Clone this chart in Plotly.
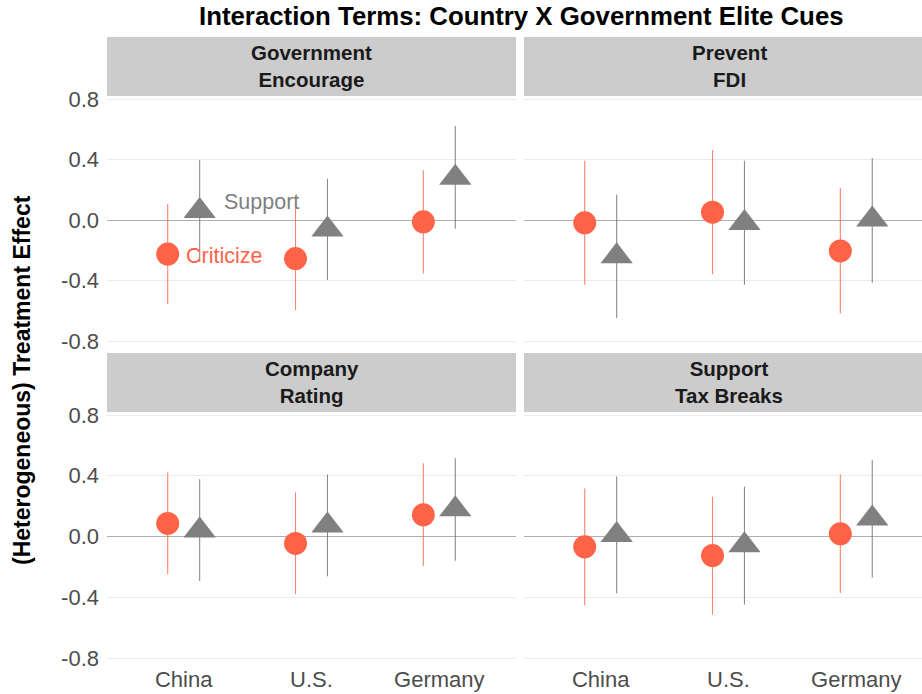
import plotly.graph_objects as go

# ---------------- data ----------------
countries = ["China", "U.S.", "Germany"]
panels = ["Government<br>Encourage", "Prevent<br>FDI", "Company<br>Rating", "Support<br>Tax Breaks"]

# Criticize (circles)
crit_est = [[-0.225, -0.255, -0.012], [-0.018, 0.052, -0.204], [0.086, -0.045, 0.143], [-0.068, -0.125, 0.018]]
crit_lo = [[-0.557, -0.595, -0.353], [-0.428, -0.359, -0.617], [-0.249, -0.380, -0.196], [-0.453, -0.514, -0.372]]
crit_hi = [[0.106, 0.088, 0.330], [0.392, 0.463, 0.212], [0.421, 0.291, 0.483], [0.317, 0.262, 0.408]]

# Support (triangles)
supp_est = [[0.060, -0.062, 0.280], [-0.240, -0.019, 0.003], [0.040, 0.073, 0.179], [0.010, -0.058, 0.118]]
supp_lo = [[-0.278, -0.397, -0.057], [-0.648, -0.428, -0.414], [-0.293, -0.262, -0.159], [-0.374, -0.448, -0.269]]
supp_hi = [[0.397, 0.273, 0.621], [0.167, 0.392, 0.410], [0.377, 0.408, 0.516], [0.395, 0.329, 0.504]]

y_ticks = [-0.8, -0.4, 0.0, 0.4, 0.8]
y_ticktext = ["-0.8", "-0.4", "0.0", "0.4", "0.8"]

# ---------------- layout geometry ----------------
W, H = 922, 694
FONT = "Liberation Sans, Arial, sans-serif"
TOMATO = "#FF6347"
GREY = "#808080"

def px_x(p):
    return p / W

def px_y(p):
    return 1 - p / H

x_domains = [(107, 516), (524, 922)]
y_domains = [(96, 345), (412, 662)]
strip_y = [(37, 96), (353, 412)]
x_ranges = [[0.4, 3.6], [0.4, 0.4 + (922 - 524) / 127.8]]
y_range = [-0.826, 0.82]
dodge = 0.125

fig = go.Figure()
layout_axes = {}

for i, name in enumerate(panels):
    row, col = divmod(i, 2)
    ax = "" if i == 0 else str(i + 1)
    xref = "x" + ax
    yref = "y" + ax
    xpos = [k + 1 for k in range(len(countries))]

    ce, cl, ch = crit_est[i], crit_lo[i], crit_hi[i]
    se, sl, sh = supp_est[i], supp_lo[i], supp_hi[i]

    fig.add_trace(go.Scatter(
        x=[p - dodge for p in xpos], y=ce, mode="markers",
        marker=dict(symbol="circle", size=23, color=TOMATO),
        error_y=dict(type="data", symmetric=False,
                     array=[h - e for h, e in zip(ch, ce)],
                     arrayminus=[e - l for e, l in zip(ce, cl)],
                     color="rgba(255,99,71,0.8)", thickness=1.1, width=0),
        xaxis=xref, yaxis=yref, showlegend=False, hoverinfo="skip"))
    fig.add_trace(go.Scatter(
        x=[p + dodge for p in xpos], y=se, mode="markers",
        marker=dict(symbol="triangle-up", size=28, color=GREY),
        error_y=dict(type="data", symmetric=False,
                     array=[h - e for h, e in zip(sh, se)],
                     arrayminus=[e - l for e, l in zip(se, sl)],
                     color="rgba(110,110,110,0.8)", thickness=1.1, width=0),
        xaxis=xref, yaxis=yref, showlegend=False, hoverinfo="skip"))

    xd = x_domains[col]
    yd = y_domains[row]
    layout_axes["xaxis" + ax] = dict(
        domain=[px_x(xd[0]), px_x(xd[1])], range=x_ranges[col],
        anchor=yref, tickvals=xpos, ticktext=countries,
        showticklabels=(row == 1), showgrid=False, zeroline=False,
        showline=False, ticks="", ticklabelstandoff=2, automargin=False,
        tickfont=dict(family=FONT, size=22, color="#4D4D4D"), fixedrange=True)
    layout_axes["yaxis" + ax] = dict(
        domain=[px_y(yd[1]), px_y(yd[0])], range=y_range,
        anchor=xref, tickvals=y_ticks, ticktext=y_ticktext,
        showticklabels=(col == 0), showgrid=True, gridcolor="#EBEBEB", gridwidth=1,
        zeroline=True, zerolinecolor="#AFAFAF", zerolinewidth=1,
        showline=False, ticks="", ticklabelstandoff=7, automargin=False,
        tickfont=dict(family=FONT, size=22, color="#4D4D4D"), fixedrange=True)

    # strip
    sy = strip_y[row]
    fig.add_shape(type="rect", xref="paper", yref="paper",
                  x0=px_x(xd[0]), x1=px_x(xd[1]), y0=px_y(sy[1]), y1=px_y(sy[0]),
                  fillcolor="#CCCCCC", line=dict(width=0), layer="below")
    fig.add_annotation(xref="paper", yref="paper",
                       x=px_x((xd[0] + xd[1]) / 2) if col == 0 else px_x((524 + 934) / 2),
                       y=px_y((sy[0] + sy[1]) / 2),
                       text="<b>" + name + "</b>", showarrow=False,
                       font=dict(family=FONT, size=20.5, color="#1A1A1A"),
                       xanchor="center", yanchor="middle", align="center")

# in-panel labels
fig.add_annotation(x=1.3, y=0.12, xref="x", yref="y", text="Support", showarrow=False,
                   xanchor="left", yanchor="middle",
                   font=dict(family=FONT, size=21.5, color=GREY))
fig.add_annotation(x=1.0, y=-0.235, xref="x", yref="y", text="Criticize", showarrow=False,
                   xanchor="left", yanchor="middle",
                   font=dict(family=FONT, size=21.5, color=TOMATO))

# title
fig.add_annotation(xref="paper", yref="paper", x=px_x(521), y=px_y(16),
                   text="<b>Interaction Terms: Country X Government Elite Cues</b>",
                   showarrow=False, xanchor="center", yanchor="middle",
                   font=dict(family=FONT, size=25.8, color="#000000"))

# y-axis title
fig.add_annotation(xref="paper", yref="paper", x=px_x(22), y=px_y(380),
                   text="<b>(Heterogeneous) Treatment Effect</b>", textangle=-90,
                   showarrow=False, xanchor="center", yanchor="middle",
                   font=dict(family=FONT, size=23, color="#000000"))

fig.update_layout(
    width=W, height=H,
    margin=dict(l=0, r=0, t=0, b=0, autoexpand=False),
    paper_bgcolor="white", plot_bgcolor="white",
    showlegend=False,
    font=dict(family=FONT),
    **layout_axes,
)

fig.write_html(
    "out.html",
    config={"displayModeBar": False},
    post_script="document.body.style.margin='0';document.body.style.padding='0';"
                "document.documentElement.style.margin='0';",
)
